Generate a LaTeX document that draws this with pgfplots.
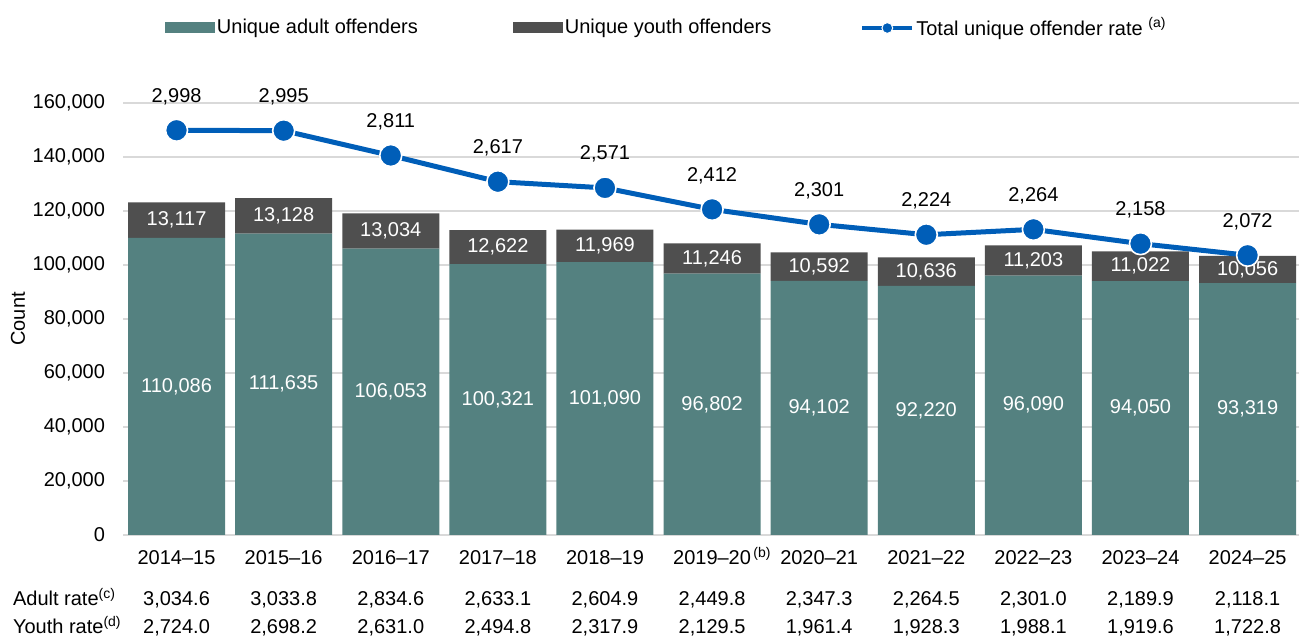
\documentclass[border=0pt]{standalone}
\usepackage{fontspec}
\setmainfont{Liberation Sans}
\usepackage{pgfplots}
\pgfplotsset{compat=1.18}
\definecolor{adultc}{HTML}{548180}
\definecolor{youthc}{HTML}{4F4F4F}
\definecolor{rateblue}{HTML}{005EB8}
\definecolor{gridc}{HTML}{D9D9D9}
\pgfplotsset{
  every axis/.append style={font=\fontsize{10}{12}\selectfont},
  common/.style={scale only axis, width=588pt, height=216pt,
    xmin=-0.5, xmax=10.48, clip=false,
    /pgf/number format/assume math mode=true,
    /pgf/number format/fixed,
    /pgf/number format/1000 sep={,}},
}
\begin{document}
\begin{tikzpicture}[font=\fontsize{10}{12}\selectfont]
\begin{axis}[common, name=main,
  ybar stacked, bar width=48.5pt,
  ymin=0, ymax=160000,
  xtick={0,...,10},
  xticklabels={2014–15,2015–16,2016–17,2017–18,2018–19,{2019–20\rlap{\textsuperscript{\,(b)}}},2020–21,2021–22,2022–23,2023–24,2024–25},
  xticklabel style={anchor=base, yshift=-15pt},
  ytick={0,20000,40000,60000,80000,100000,120000,140000,160000},
  yticklabels={0,{20,000},{40,000},{60,000},{80,000},{100,000},{120,000},{140,000},{160,000}},
  scaled y ticks=false,
  yticklabel style={xshift=-5.5pt},
  ymajorgrids, grid style={draw=gridc, line width=1pt},
  axis line style={draw=none}, tick style={draw=none},
  ylabel={Count},
  ylabel style={at={(axis description cs:-0.0893,0.5)}, anchor=center},
  legend columns=3,
  legend style={draw=none, fill=none, inner sep=0pt, outer sep=0pt,
    at={(axis description cs:0.0357,1.1736)}, anchor=west,
    nodes={inner sep=1pt},
    /tikz/column 2/.style={column sep=46.5pt},
    /tikz/column 4/.style={column sep=43.5pt}},
  legend image code/.code={\fill[#1] (0pt,-2.75pt) rectangle (25pt,2.75pt);},
]
\addplot[fill=adultc, draw=none] coordinates {(0,110086) (1,111635) (2,106053) (3,100321) (4,101090) (5,96802) (6,94102) (7,92220) (8,96090) (9,94050) (10,93319)};
\addlegendentry{Unique adult offenders}
\addplot[fill=youthc, draw=none] coordinates {(0,13117) (1,13128) (2,13034) (3,12622) (4,11969) (5,11246) (6,10592) (7,10636) (8,11203) (9,11022) (10,10056)};
\addlegendentry{Unique youth offenders}
\addlegendimage{legend image code/.code={\draw[rateblue, line width=2pt] (0pt,0pt) -- (25pt,0pt); \fill[rateblue, draw=white, line width=0.5pt] (12.5pt,0pt) circle (2.7pt);}}
\addlegendentry{Total unique offender rate \textsuperscript{(a)}}
\end{axis}

\begin{axis}[common, ymin=0, ymax=160000, hide axis]
% adult labels (centred in segment)
\addplot[draw=none, mark=none, point meta=explicit symbolic, nodes near coords,
  nodes near coords style={text=white, anchor=center}] coordinates {
  (0,55043)[110,086] (1,55818)[111,635] (2,53027)[106,053] (3,50161)[100,321] (4,50545)[101,090]
  (5,48401)[96,802] (6,47051)[94,102] (7,46110)[92,220] (8,48045)[96,090] (9,47025)[94,050] (10,46660)[93,319]};
% youth labels
\addplot[draw=none, mark=none, point meta=explicit symbolic, nodes near coords,
  nodes near coords style={text=white, anchor=center}] coordinates {
  (0,116645)[13,117] (1,118199)[13,128] (2,112570)[13,034] (3,106632)[12,622] (4,107075)[11,969]
  (5,102425)[11,246] (6,99398)[10,592] (7,97538)[10,636] (8,101692)[11,203] (9,99561)[11,022] (10,98347)[10,056]};
% adult rate row
\addplot[draw=none, mark=none, point meta=explicit symbolic, nodes near coords,
  nodes near coords style={text=black, anchor=base, yshift=-35.5pt}] coordinates {
  (0,0)[3,034.6] (1,0)[3,033.8] (2,0)[2,834.6] (3,0)[2,633.1] (4,0)[2,604.9] (5,0)[2,449.8]
  (6,0)[2,347.3] (7,0)[2,264.5] (8,0)[2,301.0] (9,0)[2,189.9] (10,0)[2,118.1]};
% youth rate row
\addplot[draw=none, mark=none, point meta=explicit symbolic, nodes near coords,
  nodes near coords style={text=black, anchor=base, yshift=-49.5pt}] coordinates {
  (0,0)[2,724.0] (1,0)[2,698.2] (2,0)[2,631.0] (3,0)[2,494.8] (4,0)[2,317.9] (5,0)[2,129.5]
  (6,0)[1,961.4] (7,0)[1,928.3] (8,0)[1,988.1] (9,0)[1,919.6] (10,0)[1,722.8]};
\node[anchor=base west, yshift=-35.5pt] at (axis description cs:-0.0995,0) {Adult rate\textsuperscript{(c)}};
\node[anchor=base west, yshift=-49.5pt] at (axis description cs:-0.0995,0) {Youth rate\textsuperscript{(d)}};
\coordinate (bbsw) at (axis description cs:-0.1046,-0.2384);
\coordinate (bbne) at (axis description cs:1,1.2384);
\end{axis}

\begin{axis}[common, ymin=0, ymax=3200, hide axis]
\addplot[color=rateblue, line width=2.5pt, mark=*, mark size=5.5pt,
  mark options={fill=rateblue, draw=white, line width=0.8pt},
  nodes near coords, nodes near coords style={text=black, anchor=south, yshift=9pt}]
  coordinates {(0,2998) (1,2995) (2,2811) (3,2617) (4,2571) (5,2412) (6,2301) (7,2224) (8,2264) (9,2158) (10,2072)};
\end{axis}
\pgfresetboundingbox
\useasboundingbox (bbsw) rectangle (bbne);
\end{tikzpicture}
\end{document}
